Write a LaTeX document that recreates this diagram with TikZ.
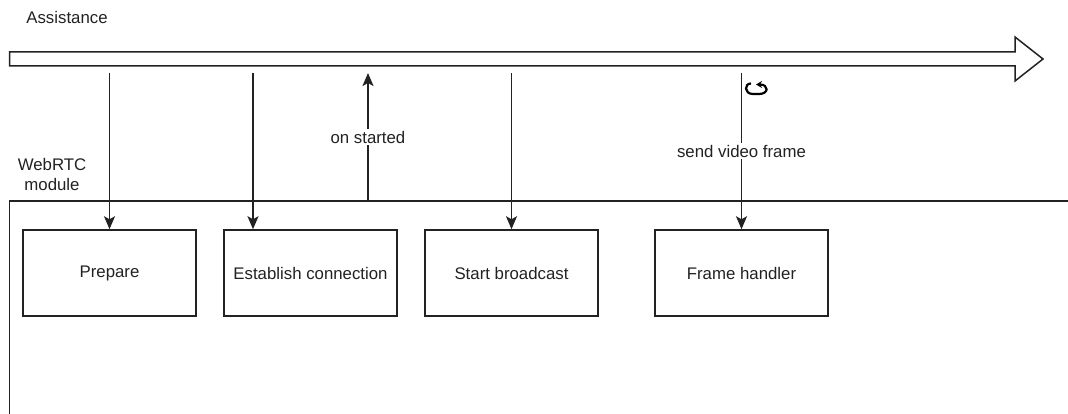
\documentclass[tikz,border=0pt]{standalone}
\usepackage{fontspec}
\setmainfont{Liberation Sans}
\usetikzlibrary{arrows.meta}
\definecolor{ink}{HTML}{222222}
\tikzset{
  txt/.style={font=\fontsize{16.8}{20}\selectfont, text=ink, inner sep=1pt},
  stagebox/.style={draw=ink, line width=1.5, minimum width=173, minimum height=86,
    inner sep=0pt, text=ink, font=\fontsize{16.8}{20}\selectfont},
  call/.style={draw=ink, line width=1.5, -{Stealth[length=13,width=11,inset=3]}},
  lbl/.style={fill=white, text=ink, font=\fontsize{16.8}{20}\selectfont, inner sep=2pt},
}
\begin{document}
\begin{tikzpicture}[x=1pt,y=-1pt]
\useasboundingbox (0,0) rectangle (1068,414);

% Assistance timeline (open block arrow)
\node[txt] (assist) at (67,17) {Assistance};
\draw[draw=ink, line width=1.5, fill=white]
  (9.5,52) -- (1015,52) -- (1015,37) -- (1043,59) -- (1015,81) -- (1015,66) -- (9.5,66) -- cycle;

% WebRTC module frame
\node[txt, align=center] (webrtc) at (52,174) {WebRTC\\module};
\draw[draw=ink, line width=1.5] (1068,201) -- (9.5,201) -- (9.5,414);

% stages inside the module
\node[stagebox] (prep) at (109.5,273) {Prepare};
\node[stagebox] (est)  at (310.5,273) {Establish connection};
\node[stagebox] (bcast) at (511.5,273) {Start broadcast};
\node[stagebox] (frame) at (741.5,273) {Frame handler};

% points on the timeline and the module edge
\coordinate (tPrep)  at (109.5,73);
\coordinate (tEst)   at (253,73);
\coordinate (tOn)    at (368,73);
\coordinate (mOn)    at (368,201);
\coordinate (tBcast) at (511.5,73);
\coordinate (tFrame) at (741.5,73);

% calls between timeline and module
\draw[call] (tPrep) -- (prep.north);
\draw[call] (tEst) -- (est.north -| tEst);
\draw[call] (mOn) -- node[lbl] (onlbl) {on started} (tOn);
\draw[call] (tBcast) -- (bcast.north);
\draw[call] (tFrame) -- node[lbl, pos=0.5] (sendlbl) {send video frame} (frame.north);

% repeat marker next to the frame call
\draw[draw=black, line width=2.2, -{Stealth[length=6,width=7]}]
  (751,83.5) .. controls (744,83.5) and (744,94) .. (753,94)
  -- (759,94) .. controls (769,94) and (769,84.5) .. (756,84.5);
\end{tikzpicture}
\end{document}
